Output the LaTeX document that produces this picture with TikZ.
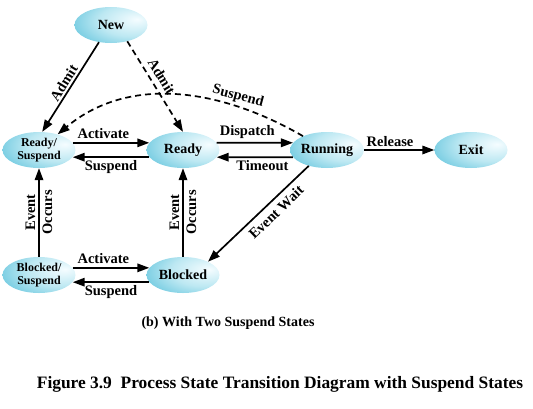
\documentclass[tikz,border=0pt]{standalone}
\usepackage{fontspec}
\setmainfont{Liberation Serif}
\usetikzlibrary{arrows.meta,shapes.geometric}
\pgfdeclareradialshading{statefill}{\pgfpoint{18bp}{8bp}}{rgb(0bp)=(0.96,0.99,1);rgb(22bp)=(0.74,0.91,0.95);rgb(45bp)=(0.36,0.76,0.86);rgb(62bp)=(0.24,0.69,0.8);rgb(100bp)=(0.24,0.69,0.8)}
\begin{document}
\begin{tikzpicture}[x=1pt,y=-1pt,
  state/.style={ellipse, minimum width=73pt, minimum height=36pt, inner xsep=0pt, inner ysep=-4pt,
    shading=statefill, font=\fontsize{14}{16}\selectfont\bfseries},
  smallstate/.style={state, font=\fontsize{12}{13}\selectfont\bfseries, align=center},
  arr/.style={line width=1.7pt, -{Triangle[length=12pt,width=8.5pt]}},
  dashline/.style={dash pattern=on 6pt off 4pt},
  lbl/.style={font=\fontsize{14.5}{17}\selectfont\bfseries, inner sep=2.5pt},
]
\useasboundingbox (0,0) rectangle (533,408);
\node[state] (new) at (111,25) {New};
\node[smallstate] (rs) at (39,150) {Ready/\\Suspend};
\node[state] (ready) at (183,150) {Ready};
\node[state] (run) at (327,150) {Running};
\node[state] (exit) at (471,150) {Exit};
\node[smallstate] (bs) at (39,275) {Blocked/\\Suspend};
\node[state] (blk) at (183,275) {Blocked};

\draw[arr] (new.235) -- node[lbl, rotate=58, anchor=south, pos=0.5, inner sep=2pt] {Admit} (rs.80);
\draw[arr, dashline] (new.-45) -- node[lbl, rotate=-59, anchor=south, pos=0.45, inner sep=5pt] {Admit} (ready.north);
\draw[arr, dashline] (run.150) .. controls +(-81,-47) and +(72,-60) .. node[lbl, rotate=-15, anchor=south, pos=0.27] {Suspend} (rs.40);

\draw[arr] (rs.12) -- node[lbl, above, pos=0.4, inner ysep=3.5pt] {Activate} (ready.168);
\draw[arr] (ready.192) -- node[lbl, below] {Suspend} (rs.-12);
\draw[arr] (ready.12) -- node[lbl, above, pos=0.4, inner ysep=3.5pt] {Dispatch} (run.168);
\draw[arr] (run.192) -- node[lbl, below, pos=0.4] {Timeout} (ready.-12);
\draw[arr] (run.east) -- node[lbl, above, pos=0.37] {Release} (exit.west);

\draw[arr] (bs.north) -- node[lbl, rotate=90, align=center] {Event\\Occurs} (rs.south);
\draw[arr] (blk.north) -- node[lbl, rotate=90, align=center] {Event\\Occurs} (ready.south);
\draw[arr] (run.221) -- node[lbl, rotate=44, anchor=north, pos=0.4, inner sep=5pt] {Event Wait} (blk.28);

\draw[arr] (bs.12) -- node[lbl, above, pos=0.4, inner ysep=3.5pt] {Activate} (blk.168);
\draw[arr] (blk.192) -- node[lbl, below] {Suspend} (bs.-12);

\node[font=\fontsize{14}{16}\selectfont\bfseries] (sub) at (228,323) {(b) With Two Suspend States};
\node[font=\fontsize{17.4}{20}\selectfont\bfseries] (cap) at (280,384) {Figure 3.9\ \ Process State Transition Diagram with Suspend States};
\end{tikzpicture}
\end{document}
